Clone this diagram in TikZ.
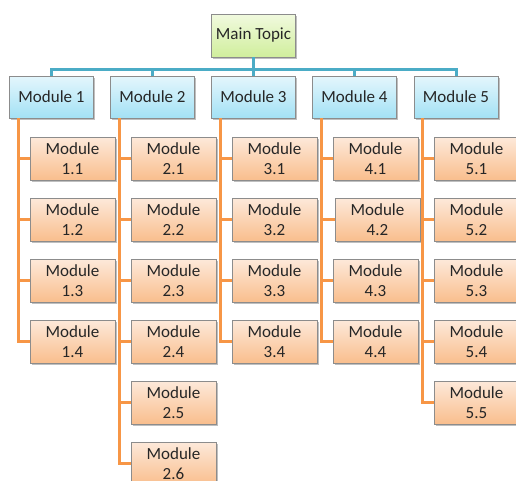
\documentclass[tikz,border=0pt]{standalone}
\usepackage{fontspec}
\setmainfont{Carlito}
\usetikzlibrary{shadows}
\definecolor{topictop}{HTML}{F1FADF}
\definecolor{topicbot}{HTML}{D0EE9C}
\definecolor{modtop}{HTML}{E4F6FC}
\definecolor{modbot}{HTML}{A3E1F5}
\definecolor{subtop}{HTML}{FDE9DA}
\definecolor{subbot}{HTML}{F9BE8D}
\definecolor{busblue}{HTML}{4BACC6}
\definecolor{branchorange}{HTML}{F79646}
\tikzstyle{box}=[rectangle, draw=black!45, inner sep=0pt, text=black!85, font=\fontsize{17}{20}\selectfont, drop shadow={shadow xshift=1.5pt, shadow yshift=-2pt, fill=black, opacity=0.25}]
\tikzstyle{topic}=[box, shading=axis, top color=topictop, bottom color=topicbot, minimum width=84pt, minimum height=43pt]
\tikzstyle{module}=[box, shading=axis, top color=modtop, bottom color=modbot, minimum width=84pt, minimum height=42pt]
\tikzstyle{sub}=[box, shading=axis, top color=subtop, bottom color=subbot, minimum width=85pt, minimum height=43pt, align=center]
\tikzstyle{bus}=[line width=3pt, draw=busblue]
\tikzstyle{branch}=[line width=3pt, draw=branchorange]

\begin{document}
\begin{tikzpicture}[x=1pt,y=-1pt]
	\useasboundingbox (0,0) rectangle (516,480);

	%The topic
	\draw (253.5,35.5) node[topic] (top) {Main Topic};
	\coordinate (bus) at (253.5,69);

	%The modules
	\draw (51.5,97) node[module] (m1) {Module 1};
	\draw (152.5,97) node[module] (m2) {Module 2};
	\draw (253.5,97) node[module] (m3) {Module 3};
	\draw (354.5,97) node[module] (m4) {Module 4};
	\draw (456,97) node[module] (m5) {Module 5};

	%Module 1
	\draw (72.5,158.5) node[sub] (s11) {Module\\1.1};
	\draw (72.5,219.5) node[sub] (s12) {Module\\1.2};
	\draw (72.5,280.5) node[sub] (s13) {Module\\1.3};
	\draw (72.5,341.5) node[sub] (s14) {Module\\1.4};

	%Module 2
	\draw (173.5,158.5) node[sub] (s21) {Module\\2.1};
	\draw (173.5,219.5) node[sub] (s22) {Module\\2.2};
	\draw (173.5,280.5) node[sub] (s23) {Module\\2.3};
	\draw (173.5,341.5) node[sub] (s24) {Module\\2.4};
	\draw (173.5,402.5) node[sub] (s25) {Module\\2.5};
	\draw (173.5,463.5) node[sub] (s26) {Module\\2.6};

	%Module 3
	\draw (274.5,158.5) node[sub] (s31) {Module\\3.1};
	\draw (274.5,219.5) node[sub] (s32) {Module\\3.2};
	\draw (274.5,280.5) node[sub] (s33) {Module\\3.3};
	\draw (274.5,341.5) node[sub] (s34) {Module\\3.4};

	%Module 4
	\draw (375.5,158.5) node[sub] (s41) {Module\\4.1};
	\draw (377.5,219.5) node[sub] (s42) {Module\\4.2};
	\draw (375.5,280.5) node[sub] (s43) {Module\\4.3};
	\draw (375.5,341.5) node[sub] (s44) {Module\\4.4};

	%Module 5
	\draw (476.5,158.5) node[sub] (s51) {Module\\5.1};
	\draw (476.5,219.5) node[sub] (s52) {Module\\5.2};
	\draw (476.5,280.5) node[sub] (s53) {Module\\5.3};
	\draw (476.5,341.5) node[sub] (s54) {Module\\5.4};
	\draw (476.5,402.5) node[sub] (s55) {Module\\5.5};

	%Bus to the modules
	\draw[bus] (top) -- (bus);
	\draw[bus] (bus) -| (m1);
	\draw[bus] (bus) -| (m2);
	\draw[bus] (bus) -- (m3);
	\draw[bus] (bus) -| (m4);
	\draw[bus] (bus) -| (m5);

	%Branches
	\draw[branch] ([xshift=9pt]m1.south west) |- (s11.west);
	\draw[branch] ([xshift=9pt]m1.south west) |- (s12.west);
	\draw[branch] ([xshift=9pt]m1.south west) |- (s13.west);
	\draw[branch] ([xshift=9pt]m1.south west) |- (s14.west);

	\draw[branch] ([xshift=9pt]m2.south west) |- (s21.west);
	\draw[branch] ([xshift=9pt]m2.south west) |- (s22.west);
	\draw[branch] ([xshift=9pt]m2.south west) |- (s23.west);
	\draw[branch] ([xshift=9pt]m2.south west) |- (s24.west);
	\draw[branch] ([xshift=9pt]m2.south west) |- (s25.west);
	\draw[branch] ([xshift=9pt]m2.south west) |- (s26.west);

	\draw[branch] ([xshift=9pt]m3.south west) |- (s31.west);
	\draw[branch] ([xshift=9pt]m3.south west) |- (s32.west);
	\draw[branch] ([xshift=9pt]m3.south west) |- (s33.west);
	\draw[branch] ([xshift=9pt]m3.south west) |- (s34.west);

	\draw[branch] ([xshift=9pt]m4.south west) |- (s41.west);
	\draw[branch] ([xshift=9pt]m4.south west) |- (s42.west);
	\draw[branch] ([xshift=9pt]m4.south west) |- (s43.west);
	\draw[branch] ([xshift=9pt]m4.south west) |- (s44.west);

	\draw[branch] ([xshift=9pt]m5.south west) |- (s51.west);
	\draw[branch] ([xshift=9pt]m5.south west) |- (s52.west);
	\draw[branch] ([xshift=9pt]m5.south west) |- (s53.west);
	\draw[branch] ([xshift=9pt]m5.south west) |- (s54.west);
	\draw[branch] ([xshift=9pt]m5.south west) |- (s55.west);
\end{tikzpicture}
\end{document}
